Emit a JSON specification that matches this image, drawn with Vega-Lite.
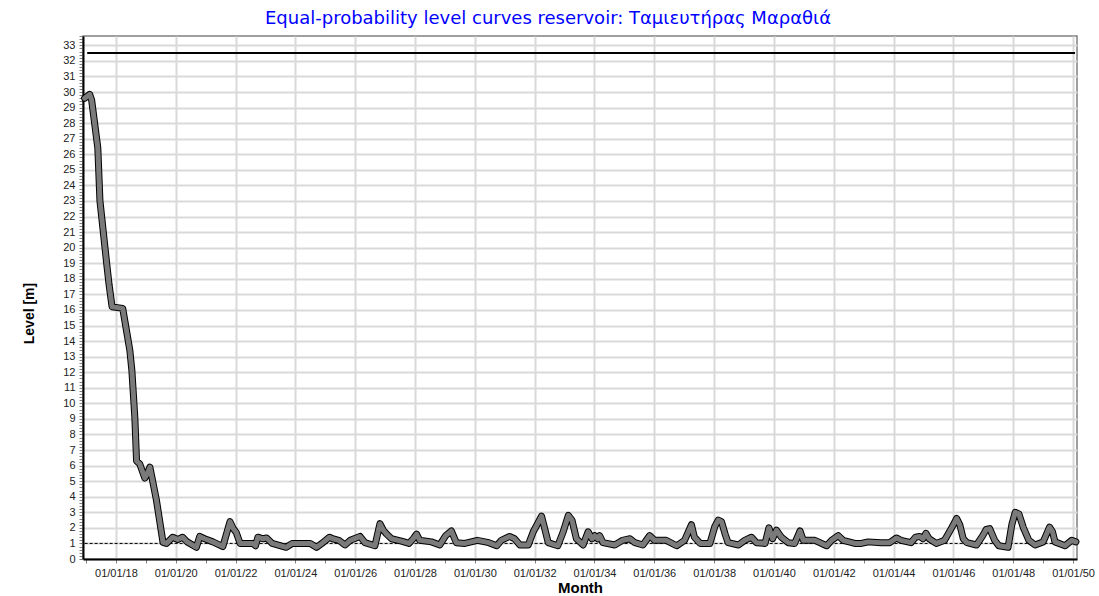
{
  "$schema": "https://vega.github.io/schema/vega-lite/v6.json",
  "autosize": {"type": "none"},
  "padding": {"left": 83, "top": 36, "right": 22, "bottom": 37},
  "width": 994,
  "height": 523,
  "background": "white",
  "title": {
    "text": "Equal-probability level curves reservoir: Ταμιευτήρας Μαραθιά",
    "color": "#0000ff",
    "font": "DejaVu Sans",
    "fontSize": 18,
    "fontWeight": "normal",
    "anchor": "middle",
    "dx": -32,
    "offset": 2
  },
  "config": {
    "view": {"stroke": "#808080", "strokeWidth": 1.5},
    "axis": {
      "labelFont": "Liberation Sans",
      "titleFont": "Liberation Sans",
      "labelColor": "#222222",
      "titleColor": "#000000",
      "domainColor": "#000000",
      "domainWidth": 2,
      "tickColor": "#808080",
      "gridWidth": 2
    }
  },
  "datasets": {
    "series": [
      {"date": "2016-12-15", "level": 29.6},
      {"date": "2017-02-15", "level": 29.85},
      {"date": "2017-03-10", "level": 29.5},
      {"date": "2017-05-25", "level": 26.4},
      {"date": "2017-06-20", "level": 23.0},
      {"date": "2017-09-10", "level": 19.0},
      {"date": "2017-10-10", "level": 17.6},
      {"date": "2017-11-15", "level": 16.2},
      {"date": "2018-03-25", "level": 16.1},
      {"date": "2018-04-20", "level": 15.3},
      {"date": "2018-06-20", "level": 13.4},
      {"date": "2018-07-15", "level": 12.1},
      {"date": "2018-08-20", "level": 9.1},
      {"date": "2018-09-10", "level": 6.3},
      {"date": "2018-10-20", "level": 6.1},
      {"date": "2018-12-20", "level": 5.2},
      {"date": "2019-01-10", "level": 5.4},
      {"date": "2019-02-20", "level": 5.9},
      {"date": "2019-05-10", "level": 3.8},
      {"date": "2019-07-30", "level": 1.07},
      {"date": "2019-09-10", "level": 1.0},
      {"date": "2019-11-25", "level": 1.4},
      {"date": "2020-01-25", "level": 1.25},
      {"date": "2020-03-25", "level": 1.4},
      {"date": "2020-05-20", "level": 1.1},
      {"date": "2020-09-10", "level": 0.75},
      {"date": "2020-10-20", "level": 1.45},
      {"date": "2020-12-20", "level": 1.3},
      {"date": "2021-03-30", "level": 1.1},
      {"date": "2021-07-30", "level": 0.8},
      {"date": "2021-10-25", "level": 2.4},
      {"date": "2021-12-05", "level": 1.95},
      {"date": "2022-01-10", "level": 1.7},
      {"date": "2022-02-25", "level": 1.0},
      {"date": "2022-08-01", "level": 1.0},
      {"date": "2022-09-01", "level": 0.85},
      {"date": "2022-10-01", "level": 1.4},
      {"date": "2022-12-01", "level": 1.3},
      {"date": "2023-01-15", "level": 1.35},
      {"date": "2023-03-25", "level": 1.0},
      {"date": "2023-09-10", "level": 0.75},
      {"date": "2023-11-25", "level": 1.0},
      {"date": "2024-06-30", "level": 1.0},
      {"date": "2024-09-15", "level": 0.75},
      {"date": "2024-11-20", "level": 1.0},
      {"date": "2025-02-20", "level": 1.4},
      {"date": "2025-04-01", "level": 1.3},
      {"date": "2025-06-15", "level": 1.2},
      {"date": "2025-08-30", "level": 0.9},
      {"date": "2025-11-01", "level": 1.2},
      {"date": "2026-03-01", "level": 1.45},
      {"date": "2026-04-30", "level": 1.05},
      {"date": "2026-08-30", "level": 0.85},
      {"date": "2026-10-30", "level": 2.27},
      {"date": "2026-12-10", "level": 1.85},
      {"date": "2027-01-20", "level": 1.6},
      {"date": "2027-03-20", "level": 1.3},
      {"date": "2027-07-20", "level": 1.15},
      {"date": "2027-10-20", "level": 1.0},
      {"date": "2027-12-10", "level": 1.3},
      {"date": "2028-01-20", "level": 1.6},
      {"date": "2028-02-28", "level": 1.2},
      {"date": "2028-07-20", "level": 1.1},
      {"date": "2028-10-30", "level": 0.9},
      {"date": "2029-01-10", "level": 1.5},
      {"date": "2029-03-20", "level": 1.8},
      {"date": "2029-05-20", "level": 1.05},
      {"date": "2029-09-01", "level": 1.0},
      {"date": "2030-02-01", "level": 1.2},
      {"date": "2030-06-20", "level": 1.05},
      {"date": "2030-09-25", "level": 0.85},
      {"date": "2030-11-20", "level": 1.2},
      {"date": "2031-03-01", "level": 1.45},
      {"date": "2031-05-01", "level": 1.3},
      {"date": "2031-07-05", "level": 0.9},
      {"date": "2031-10-15", "level": 0.9},
      {"date": "2031-12-15", "level": 1.75},
      {"date": "2032-01-30", "level": 2.2},
      {"date": "2032-03-25", "level": 2.75},
      {"date": "2032-05-01", "level": 2.0},
      {"date": "2032-06-15", "level": 1.05},
      {"date": "2032-10-10", "level": 0.85},
      {"date": "2032-12-15", "level": 1.75},
      {"date": "2033-02-15", "level": 2.8},
      {"date": "2033-04-01", "level": 2.5},
      {"date": "2033-05-25", "level": 1.3},
      {"date": "2033-08-15", "level": 0.9},
      {"date": "2033-10-15", "level": 1.75},
      {"date": "2033-12-01", "level": 1.3},
      {"date": "2034-01-05", "level": 1.5},
      {"date": "2034-02-10", "level": 1.3},
      {"date": "2034-03-05", "level": 1.5},
      {"date": "2034-04-15", "level": 1.05},
      {"date": "2034-09-05", "level": 0.9},
      {"date": "2034-12-10", "level": 1.2},
      {"date": "2035-03-10", "level": 1.3},
      {"date": "2035-05-10", "level": 1.05},
      {"date": "2035-08-15", "level": 0.9},
      {"date": "2035-11-05", "level": 1.5},
      {"date": "2036-01-05", "level": 1.2},
      {"date": "2036-05-25", "level": 1.2},
      {"date": "2036-09-30", "level": 0.85},
      {"date": "2037-01-05", "level": 1.2},
      {"date": "2037-03-30", "level": 2.2},
      {"date": "2037-05-05", "level": 1.4},
      {"date": "2037-07-15", "level": 1.0},
      {"date": "2037-11-10", "level": 1.0},
      {"date": "2038-01-10", "level": 2.1},
      {"date": "2038-02-20", "level": 2.5},
      {"date": "2038-04-01", "level": 2.4},
      {"date": "2038-05-15", "level": 1.6},
      {"date": "2038-06-20", "level": 1.05},
      {"date": "2038-10-25", "level": 0.9},
      {"date": "2039-01-10", "level": 1.2},
      {"date": "2039-04-01", "level": 1.4},
      {"date": "2039-06-01", "level": 1.05},
      {"date": "2039-09-15", "level": 1.0},
      {"date": "2039-11-01", "level": 2.0},
      {"date": "2039-12-15", "level": 1.3},
      {"date": "2040-02-01", "level": 1.85},
      {"date": "2040-04-01", "level": 1.4},
      {"date": "2040-06-25", "level": 1.05},
      {"date": "2040-09-10", "level": 1.0},
      {"date": "2040-11-15", "level": 1.8},
      {"date": "2040-12-25", "level": 1.2},
      {"date": "2041-05-15", "level": 1.2},
      {"date": "2041-10-05", "level": 0.85},
      {"date": "2041-12-05", "level": 1.2},
      {"date": "2042-02-25", "level": 1.5},
      {"date": "2042-04-25", "level": 1.2},
      {"date": "2042-09-15", "level": 1.0},
      {"date": "2042-12-05", "level": 1.0},
      {"date": "2043-02-25", "level": 1.1},
      {"date": "2043-08-01", "level": 1.05},
      {"date": "2043-11-15", "level": 1.05},
      {"date": "2044-02-05", "level": 1.35},
      {"date": "2044-04-01", "level": 1.2},
      {"date": "2044-08-01", "level": 1.05},
      {"date": "2044-09-25", "level": 1.4},
      {"date": "2044-11-15", "level": 1.45},
      {"date": "2044-12-25", "level": 1.3},
      {"date": "2045-01-30", "level": 1.65},
      {"date": "2045-03-10", "level": 1.3},
      {"date": "2045-06-05", "level": 1.0},
      {"date": "2045-09-15", "level": 1.2},
      {"date": "2045-12-10", "level": 2.0},
      {"date": "2046-02-10", "level": 2.6},
      {"date": "2046-03-20", "level": 2.2},
      {"date": "2046-05-01", "level": 1.3},
      {"date": "2046-06-15", "level": 1.05},
      {"date": "2046-10-10", "level": 0.9},
      {"date": "2046-12-25", "level": 1.5},
      {"date": "2047-02-05", "level": 1.9},
      {"date": "2047-03-20", "level": 1.95},
      {"date": "2047-05-20", "level": 1.2},
      {"date": "2047-07-10", "level": 0.85},
      {"date": "2047-10-30", "level": 0.75},
      {"date": "2047-12-15", "level": 2.2},
      {"date": "2048-01-25", "level": 3.0},
      {"date": "2048-03-10", "level": 2.9},
      {"date": "2048-05-05", "level": 2.0},
      {"date": "2048-07-10", "level": 1.2},
      {"date": "2048-09-25", "level": 0.9},
      {"date": "2049-01-01", "level": 1.1},
      {"date": "2049-03-20", "level": 2.05},
      {"date": "2049-04-25", "level": 1.75},
      {"date": "2049-05-25", "level": 1.1},
      {"date": "2049-09-25", "level": 0.85},
      {"date": "2049-12-15", "level": 1.2},
      {"date": "2050-02-05", "level": 1.1}
    ],
    "limits": [
      {"start": "2017-01-15", "end": "2050-01-25", "level": 32.5, "kind": "max"},
      {"start": "2016-12-15", "end": "2050-01-25", "level": 1.0, "kind": "min"}
    ]
  },
  "layer": [
    {
      "data": {"name": "limits"},
      "transform": [{"filter": "datum.kind == 'min'"}],
      "mark": {"type": "rule", "color": "#000000", "strokeWidth": 1, "strokeDash": [3, 2]},
      "encoding": {
        "x": {
          "field": "start", "type": "temporal",
          "scale": {"type": "utc", "domain": [{"year": 2016, "month": 11, "date": 25, "utc": true}, {"year": 2050, "month": 2, "date": 18, "utc": true}]},
          "axis": {
            "title": "Month",
            "titleFontSize": 15,
            "titleFontWeight": "bold",
            "titlePadding": 2,
            "labelFontSize": 11,
            "labelPadding": 4,
            "tickSize": 4,
            "tickCount": {"interval": "year", "step": 1},
            "labelExpr": "utcyear(datum.value) % 2 == 0 ? utcFormat(datum.value, '%d/%m/%y') : ''",
            "labelOverlap": false,
            "labelFlush": false,
            "labelBound": false,
            "grid": true,
            "gridColor": "#d9d9d9",
            "gridOpacity": {"condition": {"test": "utcyear(datum.value) % 2 == 0", "value": 1}, "value": 0}
          }
        },
        "x2": {"field": "end"},
        "y": {
          "field": "level", "type": "quantitative",
          "scale": {"domain": [0, 33.6], "nice": false, "zero": true},
          "axis": {
            "title": "Level [m]",
            "titleFontSize": 14,
            "titleFontWeight": "bold",
            "titlePadding": 26,
            "titleY": 277,
            "labelFontSize": 11,
            "labelPadding": 4,
            "tickSize": 4,
            "tickCount": 168,
            "labelExpr": "datum.value % 1 == 0 ? format(datum.value, 'd') : ''",
            "labelOverlap": false,
            "labelFlush": false,
            "labelBound": false,
            "grid": true,
            "gridColor": "#d9d9d9",
            "gridOpacity": {"condition": {"test": "datum.value % 1 == 0", "value": 1}, "value": 0}
          }
        }
      }
    },
    {
      "data": {"name": "limits"},
      "transform": [{"filter": "datum.kind == 'max'"}],
      "mark": {"type": "rule", "color": "#000000", "strokeWidth": 2},
      "encoding": {
        "x": {"field": "start", "type": "temporal"},
        "x2": {"field": "end"},
        "y": {"field": "level", "type": "quantitative"}
      }
    },
    {
      "data": {"name": "series"},
      "mark": {"type": "line", "color": "#000000", "strokeWidth": 7, "strokeJoin": "round", "strokeCap": "round"},
      "encoding": {
        "x": {"field": "date", "type": "temporal"},
        "y": {"field": "level", "type": "quantitative"}
      }
    },
    {
      "data": {"name": "series"},
      "mark": {"type": "line", "color": "#7a7a7a", "strokeWidth": 5, "strokeJoin": "round", "strokeCap": "round"},
      "encoding": {
        "x": {"field": "date", "type": "temporal"},
        "y": {"field": "level", "type": "quantitative"}
      }
    }
  ]
}
